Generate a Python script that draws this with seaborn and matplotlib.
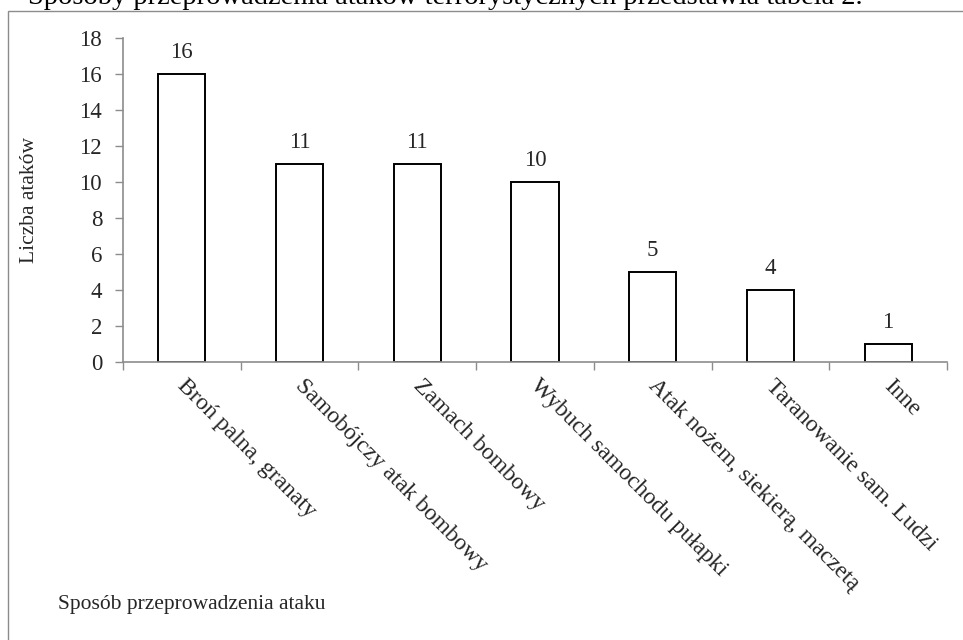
import matplotlib
matplotlib.use("Agg")
import matplotlib.pyplot as plt
from matplotlib.patches import Rectangle
import seaborn as sns
import pandas as pd

categories = [
    "Broń palna, granaty",
    "Samobójczy atak bombowy",
    "Zamach bombowy",
    "Wybuch samochodu pułapki",
    "Atak nożem, siekierą, maczetą",
    "Taranowanie sam. Ludzi",
    "Inne",
]
counts = [16, 11, 11, 10, 5, 4, 1]
y_ticks = [0, 2, 4, 6, 8, 10, 12, 14, 16, 18]

sns.set_theme(style="white")
plt.rcParams["font.family"] = ["Liberation Serif", "DejaVu Serif"]

df = pd.DataFrame({"sposob": categories, "liczba": counts})

W, H = 963, 640
fig = plt.figure(figsize=(W / 100, H / 100), dpi=100)
fig.patch.set_facecolor("white")

# frame around the chart area, open to the right and bottom
fig.add_artist(Rectangle((8 / W, -0.1), 1.2, 1.1 - 11 / H, transform=fig.transFigure,
                         fill=False, edgecolor="#8c8c8c", linewidth=1.0))

# caption line above the chart (runs off the top edge)
fig.text(28 / W, 1 - 4 / H, "Sposoby przeprowadzenia ataków terrorystycznych przedstawia tabela 2.",
         fontsize=20.5, ha="left", va="baseline", color="black")

ax = fig.add_axes([123 / W, (H - 362) / H, (947 - 123) / W, (362 - 38) / H])
sns.barplot(data=df, x="sposob", y="liczba", ax=ax, color="white", edgecolor="black",
            linewidth=1.4, width=0.4, saturation=1)

ax.set_ylim(0, 18)
ax.set_xlim(-0.5, len(categories) - 0.5)
ax.set_yticks(y_ticks)
ax.set_yticklabels([str(t) for t in y_ticks], fontsize=16.5)

# tick marks between categories on the x axis
ax.set_xticks([i - 0.5 for i in range(len(categories) + 1)])
ax.set_xticklabels([])
ax.tick_params(axis="x", which="major", direction="out", length=6, width=1, color="#8c8c8c", bottom=True)
ax.tick_params(axis="y", which="major", direction="out", length=6, width=1, color="#8c8c8c", left=True, pad=9)

for side in ["top", "right"]:
    ax.spines[side].set_visible(False)
for side in ["left", "bottom"]:
    ax.spines[side].set_color("#8c8c8c")
    ax.spines[side].set_linewidth(1.2)
    ax.spines[side].set_zorder(5)

# rotated category names under each bar
for i, name in enumerate(categories):
    ax.text(i - 0.01, -1.15, name, rotation=-45, rotation_mode="anchor", ha="left", va="center",
            fontsize=17, transform=ax.transData)

# value labels above the bars
for i, v in enumerate(counts):
    ax.text(i, v + 0.6, str(v), ha="center", va="bottom", fontsize=16.5)

ax.set_xlabel("")
ax.set_ylabel("")
fig.text(30 / W, (H - 200) / H, "Liczba ataków", rotation=90, ha="center", va="center", fontsize=15.5)
fig.text(58 / W, (H - 605) / H, "Sposób przeprowadzenia ataku", ha="left", va="center", fontsize=15.5)

fig.savefig("out.png", dpi=100, facecolor="white")
